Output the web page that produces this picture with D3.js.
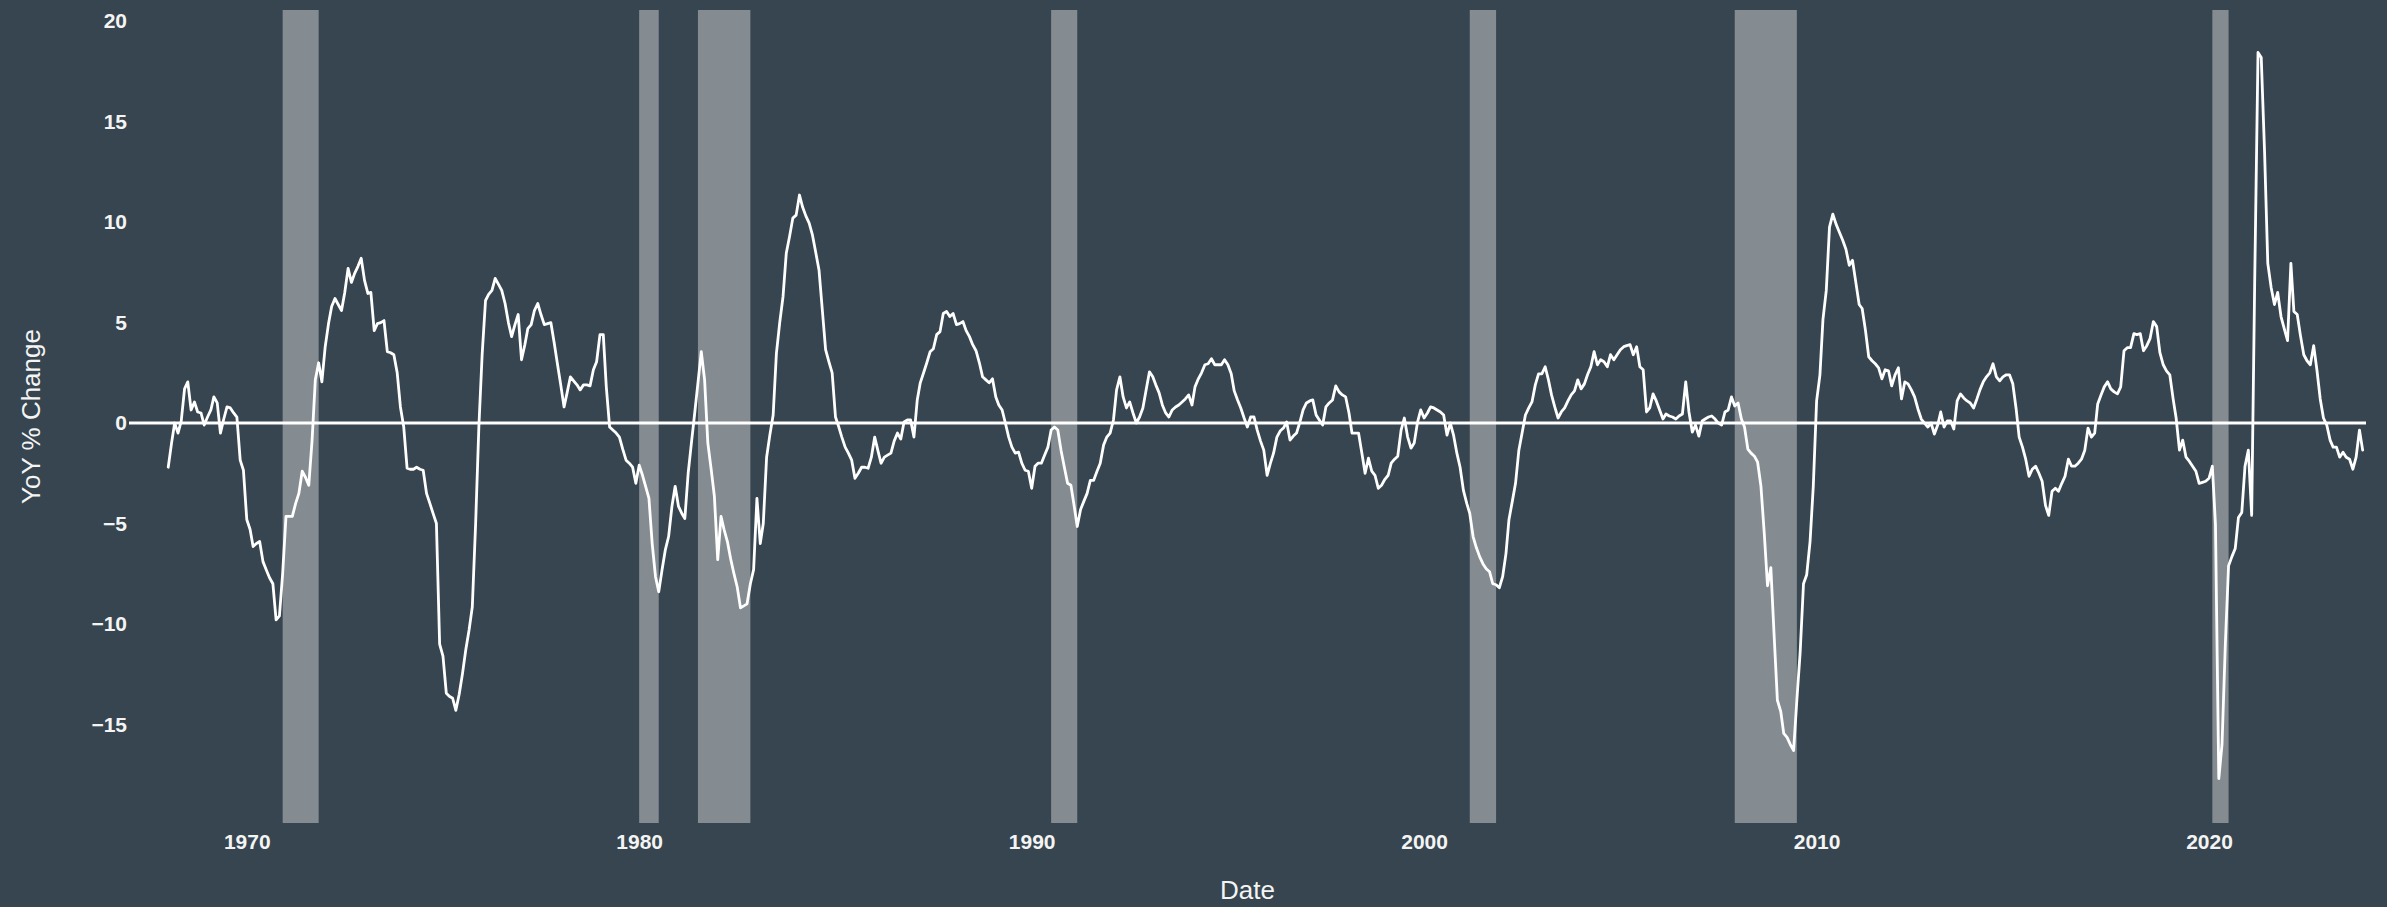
<!DOCTYPE html>
<html>
<head>
<meta charset="utf-8">
<script src="https://cdn.jsdelivr.net/npm/d3@7"></script>
<style>
  html, body { margin: 0; padding: 0; background: #36454f; }
  svg { display: block; }
  text { font-family: "Liberation Sans", Arial, sans-serif; }
</style>
</head>
<body>
<svg id="chart" width="2387" height="907"></svg>
<script>
// ---------------- DATA ----------------
// Monthly YoY % change, starting January 1968 (one row per year)
const seriesStart = "1968-01-01";
const yoyValues = [
  -2.2, -1.0, 0.0, -0.5, 0.1, 1.7, 2.05, 0.65, 1.05, 0.55, 0.5, -0.1,          // 1968
  0.3, 0.65, 1.3, 1.0, -0.5, 0.2, 0.8, 0.75, 0.5, 0.3, -1.85, -2.35,           // 1969
  -4.8, -5.3, -6.15, -6.0, -5.9, -6.9, -7.3, -7.7, -8.0, -9.8, -9.6, -7.5,     // 1970
  -4.65, -4.65, -4.65, -4.0, -3.5, -2.4, -2.7, -3.1, -0.85, 2.15, 3.0, 2.05,   // 1971
  3.8, 4.95, 5.8, 6.2, 5.9, 5.6, 6.5, 7.7, 7.0, 7.45, 7.8, 8.2,                // 1972
  7.1, 6.45, 6.5, 4.6, 4.95, 5.0, 5.1, 3.55, 3.5, 3.4, 2.5, 0.8,               // 1973
  -0.2, -2.25, -2.3, -2.3, -2.2, -2.3, -2.35, -3.5, -4.0, -4.5, -5.0, -11.0,   // 1974
  -11.6, -13.45, -13.6, -13.7, -14.3, -13.5, -12.5, -11.3, -10.3, -9.15, -5.0, -0.2, // 1975
  3.45, 6.1, 6.4, 6.6, 7.2, 6.9, 6.6, 5.95, 5.0, 4.3, 4.9, 5.4,                // 1976
  3.15, 3.9, 4.7, 4.9, 5.6, 5.95, 5.4, 4.9, 4.95, 5.0, 4.0, 2.95,              // 1977
  1.9, 0.8, 1.5, 2.3, 2.1, 1.9, 1.65, 1.9, 1.9, 1.85, 2.65, 3.05,              // 1978
  4.4, 4.4, 1.8, -0.2, -0.35, -0.5, -0.7, -1.3, -1.85, -2.0, -2.2, -3.0,       // 1979
  -2.1, -2.6, -3.15, -3.75, -6.0, -7.65, -8.4, -7.3, -6.3, -5.65, -4.15, -3.15, // 1980
  -4.15, -4.5, -4.75, -2.5, -1.0, 0.5, 2.0, 3.55, 2.15, -1.0, -2.3, -3.65,     // 1981
  -6.8, -4.65, -5.3, -5.9, -6.75, -7.5, -8.15, -9.2, -9.1, -9.0, -8.0, -7.3,   // 1982
  -3.75, -6.0, -5.0, -1.7, -0.6, 0.4, 3.45, 5.0, 6.3, 8.45, 9.3, 10.2,         // 1983
  10.35, 11.35, 10.75, 10.3, 9.95, 9.35, 8.5, 7.6, 5.6, 3.65, 3.05, 2.5,       // 1984
  0.3, -0.2, -0.7, -1.2, -1.5, -1.85, -2.75, -2.5, -2.2, -2.2, -2.25, -1.7,    // 1985
  -0.7, -1.4, -2.0, -1.7, -1.6, -1.5, -0.9, -0.5, -0.8, 0.05, 0.15, 0.15,      // 1986
  -0.7, 1.15, 2.0, 2.5, 3.0, 3.55, 3.7, 4.4, 4.55, 5.45, 5.55, 5.3,            // 1987
  5.45, 4.9, 4.95, 5.05, 4.6, 4.3, 3.9, 3.6, 3.0, 2.3, 2.15, 2.0,              // 1988
  2.2, 1.3, 0.9, 0.65, 0.0, -0.7, -1.2, -1.5, -1.45, -2.0, -2.35, -2.4,        // 1989
  -3.25, -2.15, -2.0, -2.0, -1.6, -1.2, -0.35, -0.2, -0.35, -1.35, -2.2, -3.0, // 1990
  -3.1, -4.15, -5.15, -4.3, -3.9, -3.5, -2.85, -2.85, -2.4, -2.0, -1.1, -0.7,  // 1991
  -0.5, 0.15, 1.65, 2.3, 1.3, 0.75, 1.05, 0.5, 0.0, 0.3, 0.75, 1.65,           // 1992
  2.55, 2.3, 1.9, 1.5, 0.9, 0.5, 0.3, 0.65, 0.8, 0.9, 1.05, 1.2,               // 1993
  1.4, 0.9, 1.8, 2.2, 2.5, 2.9, 2.95, 3.2, 2.9, 2.9, 2.9, 3.15,                // 1994
  2.9, 2.45, 1.6, 1.15, 0.75, 0.25, -0.2, 0.3, 0.3, -0.35, -0.9, -1.35,        // 1995
  -2.6, -2.0, -1.5, -0.7, -0.4, -0.25, 0.05, -0.85, -0.65, -0.5, 0.05, 0.65,   // 1996
  1.0, 1.1, 1.15, 0.4, 0.15, -0.1, 0.8, 1.0, 1.15, 1.85, 1.55, 1.4,            // 1997
  1.3, 0.5, -0.5, -0.5, -0.5, -1.5, -2.5, -1.75, -2.4, -2.6, -3.25, -3.1,      // 1998
  -2.8, -2.6, -2.0, -1.8, -1.65, -0.35, 0.25, -0.7, -1.25, -1.0, 0.05, 0.65,   // 1999
  0.25, 0.5, 0.8, 0.75, 0.65, 0.55, 0.4, -0.6, 0.0, -0.6, -1.5, -2.2,          // 2000
  -3.35, -4.0, -4.5, -5.65, -6.2, -6.65, -7.0, -7.25, -7.4, -8.0, -8.05, -8.2, // 2001
  -7.65, -6.5, -4.8, -3.9, -3.0, -1.35, -0.5, 0.4, 0.75, 1.05, 1.9, 2.45,      // 2002
  2.45, 2.8, 2.2, 1.4, 0.8, 0.25, 0.55, 0.75, 1.1, 1.4, 1.6, 2.15,             // 2003
  1.7, 1.95, 2.4, 2.8, 3.55, 2.9, 3.15, 3.05, 2.8, 3.4, 3.15, 3.4,             // 2004
  3.65, 3.8, 3.85, 3.9, 3.4, 3.8, 2.8, 2.65, 0.55, 0.75, 1.45, 1.1,            // 2005
  0.65, 0.2, 0.45, 0.35, 0.3, 0.2, 0.35, 0.45, 2.05, 0.55, -0.45, -0.1,        // 2006
  -0.65, 0.1, 0.2, 0.3, 0.35, 0.2, 0.0, -0.1, 0.55, 0.65, 1.3, 0.85,           // 2007
  1.0, 0.2, -0.2, -1.3, -1.5, -1.65, -1.95, -3.15, -5.5, -8.1, -7.2, -10.5,    // 2008
  -13.8, -14.35, -15.45, -15.65, -16.0, -16.3, -13.8, -11.4, -8.0, -7.55, -5.9, -3.15, // 2009
  1.1, 2.4, 5.15, 6.6, 9.75, 10.4, 9.9, 9.5, 9.1, 8.65, 7.85, 8.1,             // 2010
  7.0, 5.9, 5.7, 4.6, 3.3, 3.1, 2.95, 2.75, 2.2, 2.65, 2.6, 1.85,              // 2011
  2.4, 2.75, 1.2, 2.05, 1.95, 1.65, 1.3, 0.7, 0.2, 0.0, -0.2, 0.0,             // 2012
  -0.55, -0.1, 0.55, -0.2, 0.1, 0.1, -0.3, 1.1, 1.45, 1.25, 1.1, 1.0,          // 2013
  0.75, 1.2, 1.65, 2.05, 2.3, 2.5, 2.95, 2.3, 2.1, 2.3, 2.4, 2.4,              // 2014
  1.95, 0.7, -0.7, -1.2, -1.8, -2.65, -2.3, -2.15, -2.5, -2.9, -4.1, -4.6,     // 2015
  -3.4, -3.25, -3.4, -3.0, -2.65, -1.8, -2.15, -2.15, -2.0, -1.8, -1.35, -0.25, // 2016
  -0.7, -0.5, 0.95, 1.4, 1.8, 2.05, 1.7, 1.55, 1.45, 1.8, 3.6, 3.75,           // 2017
  3.75, 4.45, 4.4, 4.45, 3.6, 3.85, 4.2, 5.05, 4.8, 3.5, 2.9, 2.6,             // 2018
  2.4, 1.2, 0.25, -1.35, -0.85, -1.7, -1.9, -2.15, -2.4, -3.0, -2.95, -2.9,    // 2019
  -2.75, -2.15, -5.05, -17.7, -16.0, -11.0, -7.1, -6.65, -6.25, -4.7, -4.45, -2.15, // 2020
  -1.35, -4.6, 7.0, 18.45, 18.2, 13.5, 7.95, 6.75, 5.9, 6.5, 5.3, 4.7,         // 2021
  4.1, 7.95, 5.55, 5.4, 4.35, 3.4, 3.1, 2.9, 3.85, 2.65, 1.2, 0.25,            // 2022
  -0.1, -0.85, -1.2, -1.2, -1.7, -1.45, -1.7, -1.8, -2.3, -1.7, -0.35, -1.35   // 2023
];

// Shaded recession periods
const recessionStarts = ["1970-12-01", "1980-01-01", "1981-07-01", "1990-07-01", "2001-03-01", "2007-12-01", "2020-02-01"];
const recessionEnds   = ["1971-11-01", "1980-07-01", "1982-11-01", "1991-03-01", "2001-11-01", "2009-07-01", "2020-07-01"];

// Axis ticks and domains
const xDomainDates = ["1967-01-01", "2024-01-01"];
const xTickYears = [1970, 1980, 1990, 2000, 2010, 2020];
const yTickValues = [-15, -10, -5, 0, 5, 10, 15, 20];
const yDomain = [-19.91, 20.56];
const xTitle = "Date";
const yTitle = "YoY % Change";

// ---------------- CHART ----------------
const W = 2387, H = 907;
const margin = { top: 10, right: 21, bottom: 84, left: 129 };
const bg = "#36454f";
const textColor = "#f4f4f4";

const parse = d3.utcParse("%Y-%m-%d");
const t0 = parse(seriesStart);
const data = yoyValues.map((v, i) => ({ date: d3.utcMonth.offset(t0, i), value: v }));
const recessions = recessionStarts.map((s, i) => ({ start: parse(s), end: parse(recessionEnds[i]) }));

const svg = d3.select("#chart");
svg.append("rect").attr("width", W).attr("height", H).attr("fill", bg);

const x = d3.scaleUtc()
  .domain(xDomainDates.map(parse))
  .range([margin.left, W - margin.right]);
const y = d3.scaleLinear()
  .domain(yDomain)
  .range([H - margin.bottom, margin.top]);

// recession bars
svg.append("g")
  .selectAll("rect")
  .data(recessions)
  .join("rect")
  .attr("x", d => x(d.start))
  .attr("width", d => x(d.end) - x(d.start))
  .attr("y", margin.top)
  .attr("height", H - margin.bottom - margin.top)
  .attr("fill", "lightgray")
  .attr("fill-opacity", 0.5);

// zero reference line
svg.append("line")
  .attr("x1", x.range()[0]).attr("x2", x.range()[1])
  .attr("y1", y(0)).attr("y2", y(0))
  .attr("stroke", "#ffffff")
  .attr("stroke-width", 3);

// data line
const line = d3.line().x(d => x(d.date)).y(d => y(d.value));
svg.append("path")
  .datum(data)
  .attr("d", line)
  .attr("fill", "none")
  .attr("stroke", "#ffffff")
  .attr("stroke-width", 2.8)
  .attr("stroke-linejoin", "round")
  .attr("stroke-linecap", "round");

// x axis
const xAxis = d3.axisBottom(x)
  .tickValues(xTickYears.map(yr => new Date(Date.UTC(yr, 0, 1))))
  .tickFormat(d3.utcFormat("%Y"))
  .tickSize(0)
  .tickPadding(11);
const gx = svg.append("g")
  .attr("transform", `translate(0,${H - margin.bottom})`)
  .call(xAxis);
gx.select(".domain").remove();
gx.selectAll("text")
  .attr("fill", textColor)
  .attr("font-size", 21)
  .attr("font-weight", "bold")
  .attr("font-family", "'Liberation Sans', Arial, sans-serif");

// y axis
const yAxis = d3.axisLeft(y)
  .tickValues(yTickValues)
  .tickSize(0)
  .tickPadding(2);
const gy = svg.append("g")
  .attr("transform", `translate(${margin.left},0)`)
  .call(yAxis);
gy.select(".domain").remove();
gy.selectAll("text")
  .attr("fill", textColor)
  .attr("font-size", 21)
  .attr("font-weight", "bold")
  .attr("font-family", "'Liberation Sans', Arial, sans-serif");

// axis titles
svg.append("text")
  .attr("x", (x.range()[0] + x.range()[1]) / 2)
  .attr("y", 899)
  .attr("text-anchor", "middle")
  .attr("fill", textColor)
  .attr("font-size", 26)
  .text(xTitle);

svg.append("text")
  .attr("transform", `translate(40,${(y.range()[0] + y.range()[1]) / 2}) rotate(-90)`)
  .attr("text-anchor", "middle")
  .attr("fill", textColor)
  .attr("font-size", 26)
  .text(yTitle);
</script>
</body>
</html>
